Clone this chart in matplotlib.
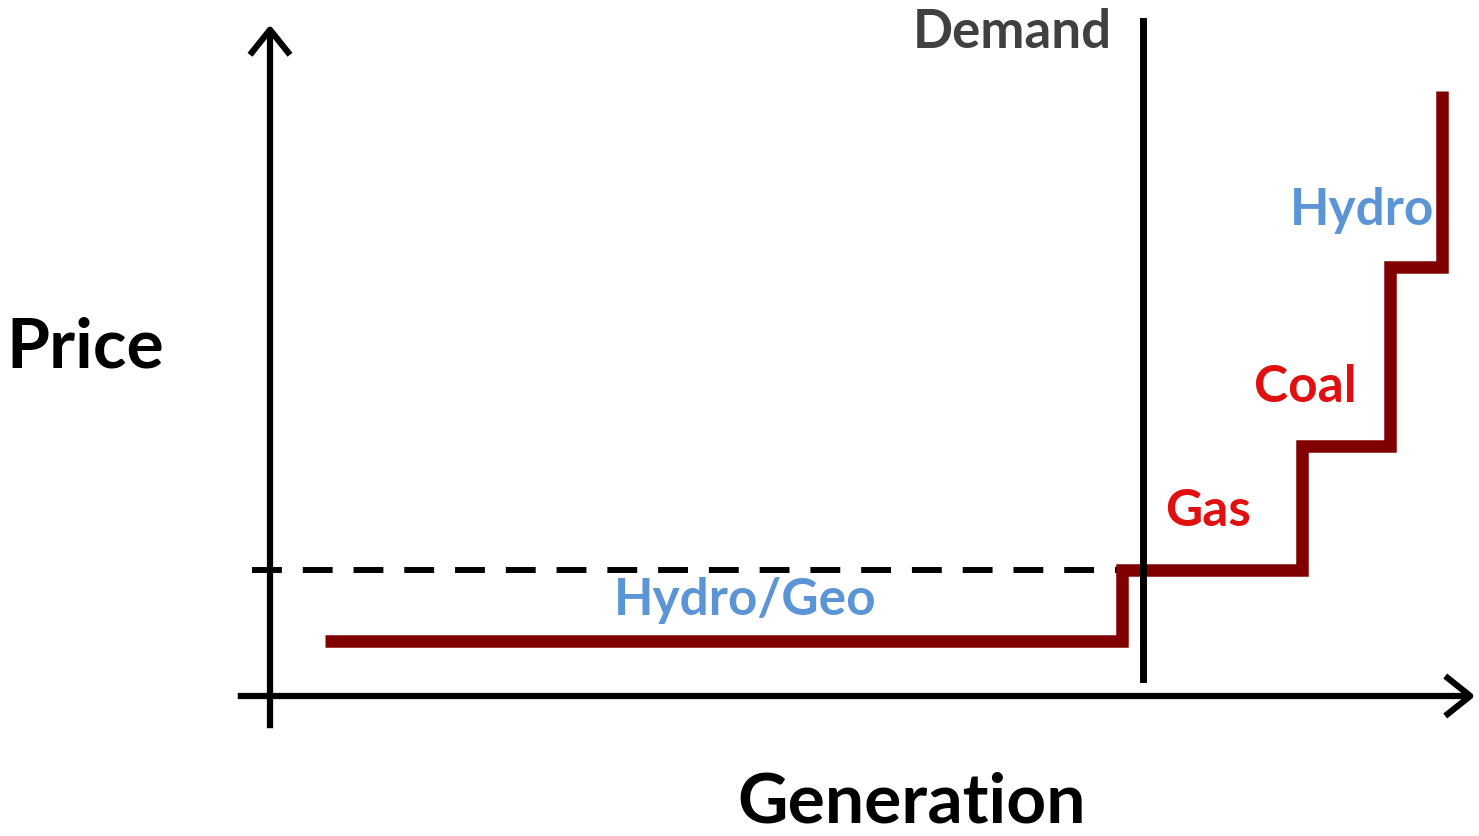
import matplotlib

matplotlib.use("Agg")
import matplotlib.pyplot as plt
from matplotlib.patches import FancyArrowPatch

# supply stack (generation, price) in arbitrary units
block_labels = ["Hydro/Geo", "Gas", "Coal", "Hydro"]
block_start = [55, 852, 1032, 1120]
block_end = [852, 1032, 1120, 1172]
block_price = [55, 126, 250, 429]
top_price = 605
demand_gen = 873
clearing_price = 126

DARK_RED = "#800000"
RED = "#E01010"
BLUE = "#5B95D5"
GRAY = "#404040"

plt.rcParams["font.family"] = ["Lato", "DejaVu Sans"]

fig = plt.figure(figsize=(14.79, 8.37), dpi=100)
ax = fig.add_axes([0, 0, 1, 1])
ax.set_xlim(-270, 1209)
ax.set_ylim(-140, 697)
ax.axis("off")

# step supply curve
xs, ys = [], []
for x0, x1, p in zip(block_start, block_end, block_price):
    xs += [x0, x1]
    ys += [p, p]
xs.append(block_end[-1])
ys.append(top_price)
ax.plot(xs, ys, color=DARK_RED, linewidth=9, solid_joinstyle="miter",
        solid_capstyle="butt", zorder=3)

# axes with open arrow heads
for start, end in [((0, -35), (0, 674)), ((-35, 0), (1208, 0))]:
    ax.add_patch(FancyArrowPatch(start, end, arrowstyle="->,head_length=0.75,head_width=0.6",
                                 mutation_scale=24, linewidth=4.5, color="black",
                                 capstyle="butt", zorder=4))

# demand line and clearing price
ax.plot([demand_gen, demand_gen], [17, 675], color="black", linewidth=5, zorder=4)
ax.plot([-18, demand_gen - 23], [clearing_price, clearing_price], color="black",
        linewidth=4.3, dashes=(5, 3.5), zorder=2)

ax.text(1112 - 270, 697 - 33, "Demand", ha="right", va="center", fontsize=38,
        fontweight="bold", color=GRAY)
ax.text(85 - 270, 697 - 348, "Price", ha="center", va="center", fontsize=50,
        fontweight="bold", color="black")
ax.text(912 - 270, 697 - 803, "Generation", ha="center", va="center", fontsize=50,
        fontweight="bold", color="black")

label_pos = [(745, 600), (1208, 512), (1305, 388), (1362, 210)]
label_col = [BLUE, RED, RED, BLUE]
for lab, (px, py), c in zip(block_labels, label_pos, label_col):
    ax.text(px - 270, 697 - py, lab, ha="center", va="center", fontsize=37,
            fontweight="bold", color=c)

fig.savefig("out.png", dpi=100)
